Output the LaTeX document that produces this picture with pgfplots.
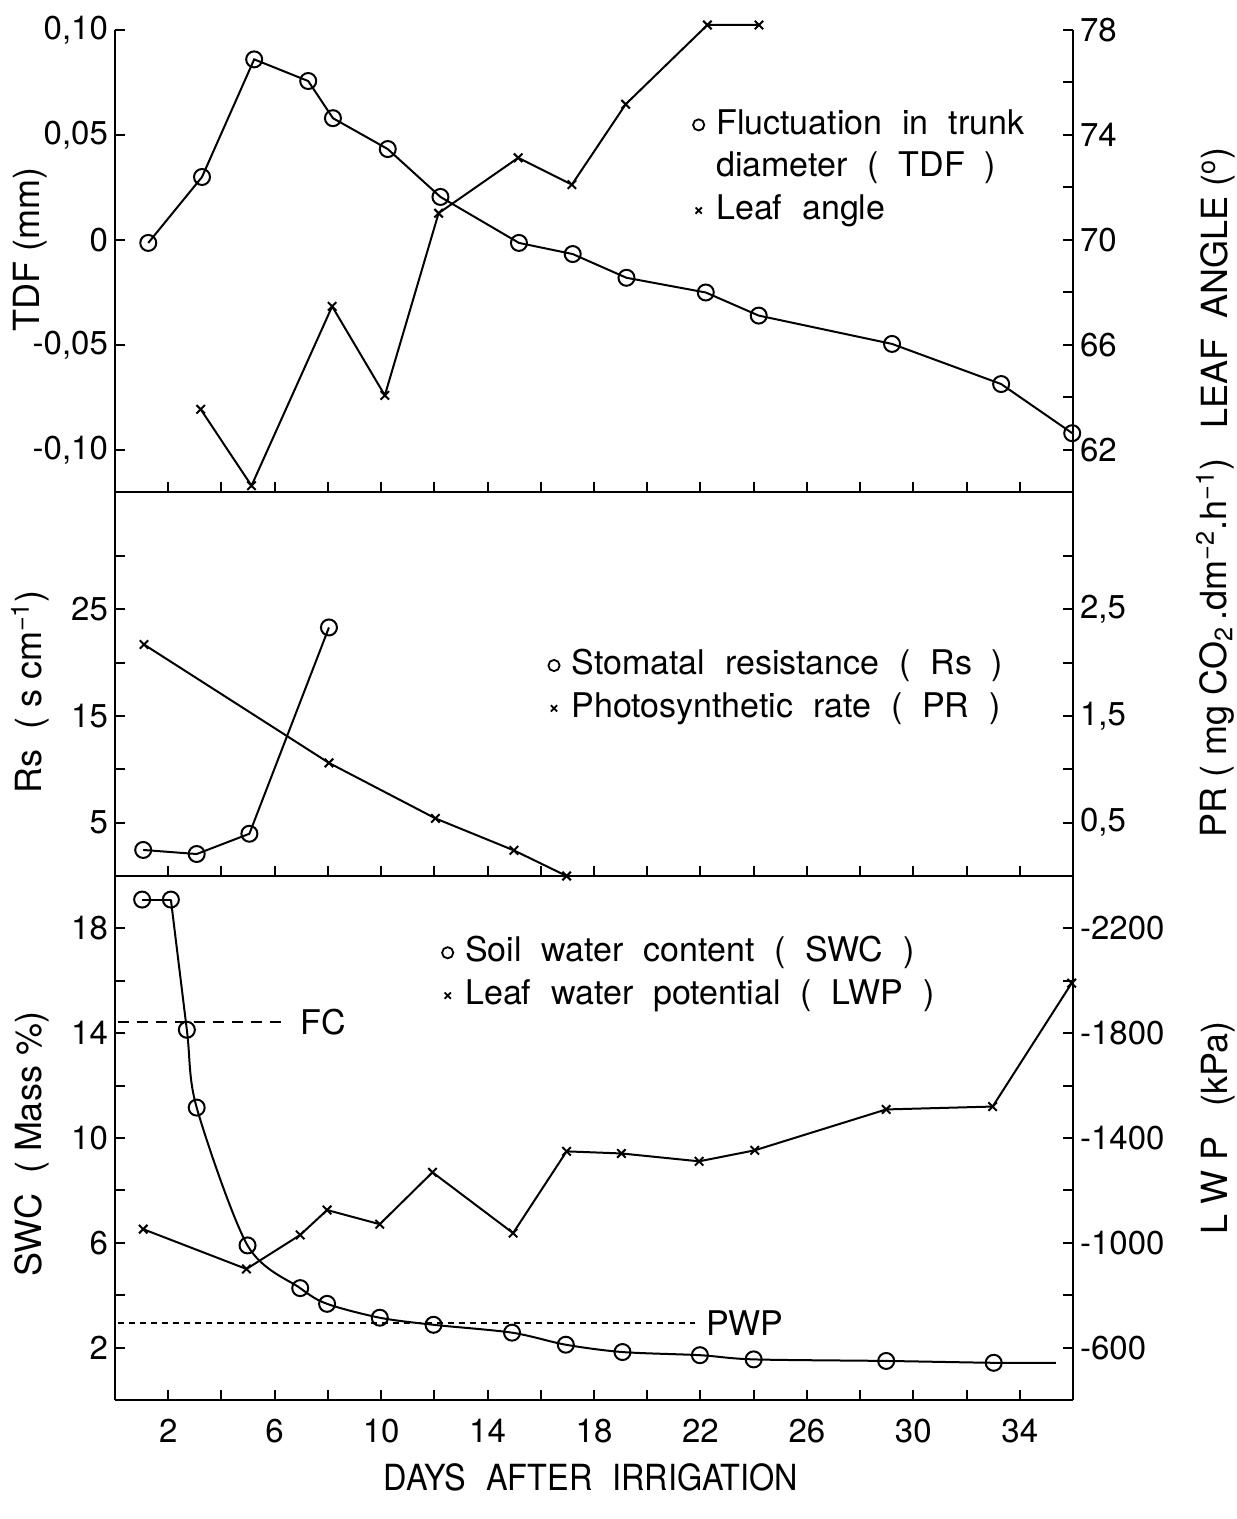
\documentclass[border=0pt]{standalone}
\usepackage{fontspec}
\setmainfont{TeX Gyre Heros}
\newfontfamily\legfont{TeX Gyre Heros}[WordSpace=2.1]
\newfontfamily\narrowfont{TeX Gyre Heros}[FakeStretch=0.9, WordSpace=2.2]
\usepackage{pgfplots}
\pgfplotsset{compat=1.18}
\pgfplotsset{
  base/.style={scale only axis, width=479pt, xmin=0, xmax=36, clip=false,
    axis line style={line width=1pt,-}, tick style={line width=1pt, black},
    major tick length=5pt,
    tick label style={font=\fontsize{16.5}{19}\selectfont},
    legend cell align=left,
    legend style={draw=none, fill=none, anchor=north west, inner sep=0pt,
       font=\legfont\fontsize{17}{20.5}\selectfont, row sep=3.5pt, column sep=4pt,
       nodes={inner sep=2pt, anchor=base west}},
    legend image code/.code={\draw[#1] plot coordinates {(0cm,0.16cm)};},
  },
  leftax/.style={base, axis x line*=bottom, axis y line*=left, tick align=inside,
    xtick={2,4,...,34}},
  rightax/.style={base, axis x line=none, axis y line*=right, tick align=inside},
  circ/.style={line width=1pt, mark=o, mark size=4pt, mark options={fill=white, line width=1pt}},
  cross/.style={line width=1pt, mark=x, mark size=3pt, mark options={line width=1pt}},
  circleg/.style={only marks, mark=o, mark size=2.8pt, mark options={line width=0.9pt}},
  crossleg/.style={only marks, mark=x, mark size=2.2pt, mark options={line width=0.9pt}},
}
\begin{document}
\begin{tikzpicture}
% ---------------- Panel 3 (bottom) ----------------
\begin{axis}[leftax, at={(0pt,0pt)}, anchor=south west, height=262pt,
  ymin=0, ymax=20, ytick={2,4,...,18}, yticklabels={2,,6,,10,,14,,18},
  xticklabels={2,,6,,10,,14,,18,,22,,26,,30,,34}, xticklabel shift=6pt]
\addplot[line width=1pt, smooth, tension=0.5] coordinates {
 (2.1,19.1) (2.7,14.13) (3.07,11.16) (4.98,5.9) (6.96,4.27) (7.97,3.67)
 (9.95,3.14) (11.97,2.87) (14.92,2.57) (16.94,2.11) (19.07,1.83) (21.98,1.71)
 (24.0,1.55) (28.98,1.49) (33.02,1.42) (35.36,1.42)};
\addplot[line width=1pt] coordinates {(1.02,19.1) (2.1,19.1)};
\addplot[circ, only marks] coordinates {
 (1.02,19.1) (2.1,19.1) (2.7,14.13) (3.07,11.16) (4.98,5.9) (6.96,4.27) (7.97,3.67)
 (9.95,3.14) (11.97,2.87) (14.92,2.57) (16.94,2.11) (19.07,1.83) (21.98,1.71)
 (24.0,1.55) (28.98,1.49) (33.02,1.42)};
\addplot[line width=0.9pt, dash pattern=on 5.5pt off 4pt] coordinates {(0.1,14.43) (6.5,14.43)};
\addplot[line width=0.9pt, dash pattern=on 3pt off 2.5pt] coordinates {(0.1,2.95) (21.8,2.95)};
\node[anchor=west, font=\fontsize{17}{20}\selectfont, inner sep=0pt] at (axis cs:6.96,14.43) {FC};
\node[anchor=west, font=\fontsize{17}{20}\selectfont, inner sep=0pt] at (axis cs:22.2,2.95) {PWP};
\end{axis}
\begin{axis}[rightax, at={(0pt,0pt)}, anchor=south west, height=262pt,
  y dir=reverse, ymin=-2400, ymax=-400,
  ytick={-2200,-2000,-1800,-1600,-1400,-1200,-1000,-800,-600},
  yticklabels={-2200,,-1800,,-1400,,-1000,,-600},
  legend style={at={(rel axis cs:0.341,0.893)}}]
\addlegendimage{circleg}\addlegendentry{Soil water content ( SWC )}
\addlegendimage{crossleg}\addlegendentry{Leaf water potential ( LWP )}
\addplot[cross] coordinates {
 (1.06,-1052) (4.94,-900) (6.96,-1030) (7.97,-1125) (9.95,-1071) (11.93,-1269)
 (14.96,-1037) (16.97,-1349) (19.03,-1341) (21.95,-1311) (24.04,-1353)
 (28.98,-1509) (32.98,-1520) (35.95,-1991)};
\end{axis}
% ---------------- Panel 2 (middle) ----------------
\begin{axis}[leftax, at={(0pt,262pt)}, anchor=south west, height=192pt,
  ymin=0, ymax=36, ytick={5,10,...,30}, yticklabels={5,,15,,25,},
  xticklabels={}]
\addplot[circ] coordinates {(1.06,2.44) (3.07,2.06) (5.05,3.96) (8.04,23.3)};
\end{axis}
\begin{axis}[rightax, at={(0pt,262pt)}, anchor=south west, height=192pt,
  ymin=0, ymax=3.6, ytick={0.5,1,1.5,2,2.5,3}, yticklabels={{0,5},,{1,5},,{2,5},},
  legend style={at={(rel axis cs:0.452,0.602)}}]
\addlegendimage{circleg}\addlegendentry{Stomatal resistance ( Rs )}
\addlegendimage{crossleg}\addlegendentry{Photosynthetic rate ( PR )}
\addplot[cross] coordinates {(1.09,2.17) (8.04,1.06) (12.04,0.54) (14.99,0.24) (16.97,0.0)};
\end{axis}
% ---------------- Panel 1 (top) ----------------
\begin{axis}[leftax, at={(0pt,454pt)}, anchor=south west, height=231pt,
  ymin=-0.12, ymax=0.10, ytick={-0.1,-0.05,0,0.05,0.1},
  yticklabels={{-0,10},{-0,05},0,{0,05},{0,10}}, xticklabels={}]
\addplot[circ] coordinates {
 (1.25,-0.0014) (3.27,0.030) (5.23,0.086) (7.26,0.0757) (8.19,0.058) (10.25,0.0433)
 (12.23,0.0205) (15.18,-0.0014) (17.2,-0.0067) (19.22,-0.018) (22.2,-0.025)
 (24.19,-0.036) (29.2,-0.0495) (33.3,-0.0686) (35.97,-0.092)};
\end{axis}
\begin{axis}[rightax, at={(0pt,454pt)}, anchor=south west, height=231pt,
  ymin=60.4, ymax=78, ytick={62,64,...,78}, yticklabels={62,,66,,70,,74,,78},
  legend style={at={(rel axis cs:0.603,0.838)}}]
\addlegendimage{circleg}\addlegendentry{Fluctuation in trunk}
\addlegendimage{empty legend}\addlegendentry{diameter ( TDF )}
\addlegendimage{crossleg}\addlegendentry{Leaf angle}
\addplot[cross] coordinates {
 (3.22,63.55) (5.13,60.64) (8.16,67.47) (10.14,64.08) (12.16,71.02) (15.15,73.13)
 (17.17,72.11) (19.19,75.17) (22.26,78.19) (24.2,78.19)};
\end{axis}
% ---------------- Axis titles ----------------
\begin{scope}[every node/.style={font=\fontsize{18}{21}\selectfont, inner sep=0pt}]
\node[rotate=90] at (-42.5pt,575pt) {TDF (mm)};
\node[rotate=90] at (-42.5pt,354pt) {Rs\ \ ( s cm\textsuperscript{−1})};
\node[rotate=90] at (-41.5pt,128pt) {SWC\ \ ( Mass \%)};
\node[rotate=90] at (551.5pt,556pt) {LEAF\ \ ANGLE (\textsuperscript{o})};
\node[rotate=90] at (550pt,376pt) {PR ( mg CO\textsubscript{2}\,.dm\textsuperscript{−2}.h\textsuperscript{−1})};
\node[rotate=90] at (551.5pt,136pt) {L W P\ \ \ (kPa)};
\node[font=\narrowfont\fontsize{18}{21}\selectfont] at (238pt,-38.5pt) {DAYS AFTER IRRIGATION};
\end{scope}
\pgfresetboundingbox
\path[use as bounding box] (-57.5pt,-59.5pt) rectangle (560.5pt,700pt);
\end{tikzpicture}
\end{document}
